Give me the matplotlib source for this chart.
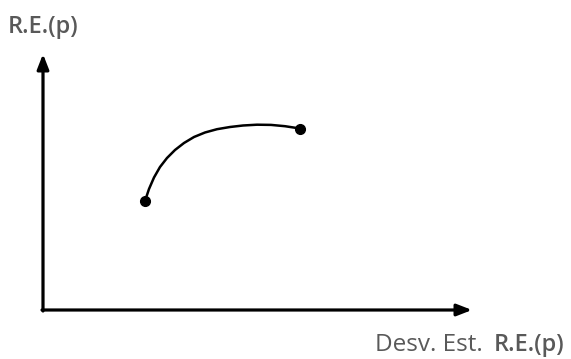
import matplotlib.pyplot as plt

# curve (origin at the axes corner, units ~ pixels)
curve_x = [102, 106, 111, 117, 124, 132, 141, 151, 162, 174, 187, 200, 214, 228, 242, 257]
curve_y = [109, 121, 132.5, 143, 152, 160, 167, 173, 177.5, 180.8, 183, 184.5, 185.3, 185.1, 183.8, 181.5]
y_label = "R.E.(p)"
x_label = "Desv. Est."
x_label_bold = "R.E.(p)"

fig = plt.figure(figsize=(5.71, 3.59), dpi=100)
ax = fig.add_axes([0, 0, 1, 1])
ax.set_xlim(-43, 528)
ax.set_ylim(-49, 310)
ax.axis("off")

arrow = dict(arrowstyle="-|>,head_length=0.9,head_width=0.35", lw=2.3, color="black",
             shrinkA=0, shrinkB=0)
ax.annotate("", xy=(429, 0), xytext=(-1, 0), arrowprops=arrow)
ax.annotate("", xy=(0, 256), xytext=(0, -1), arrowprops=arrow)

ax.plot(curve_x, curve_y, color="black", lw=1.8, solid_capstyle="round",
        solid_joinstyle="round")
ax.plot([curve_x[0], curve_x[-1]], [curve_y[0], curve_y[-1]], "o", color="black", ms=7)

grey = "#595959"
ax.text(-35, 277, y_label, fontsize=17, family="Open Sans", weight="semibold", color=grey,
        va="baseline", ha="left")
ax.text(332, -41, x_label, fontsize=17.5, family="Open Sans", color=grey, va="baseline",
        ha="left")
ax.text(522, -41, x_label_bold, fontsize=17, family="Open Sans", weight="semibold",
        color=grey, va="baseline", ha="right")

fig.savefig("out.png", dpi=100, facecolor="white")
